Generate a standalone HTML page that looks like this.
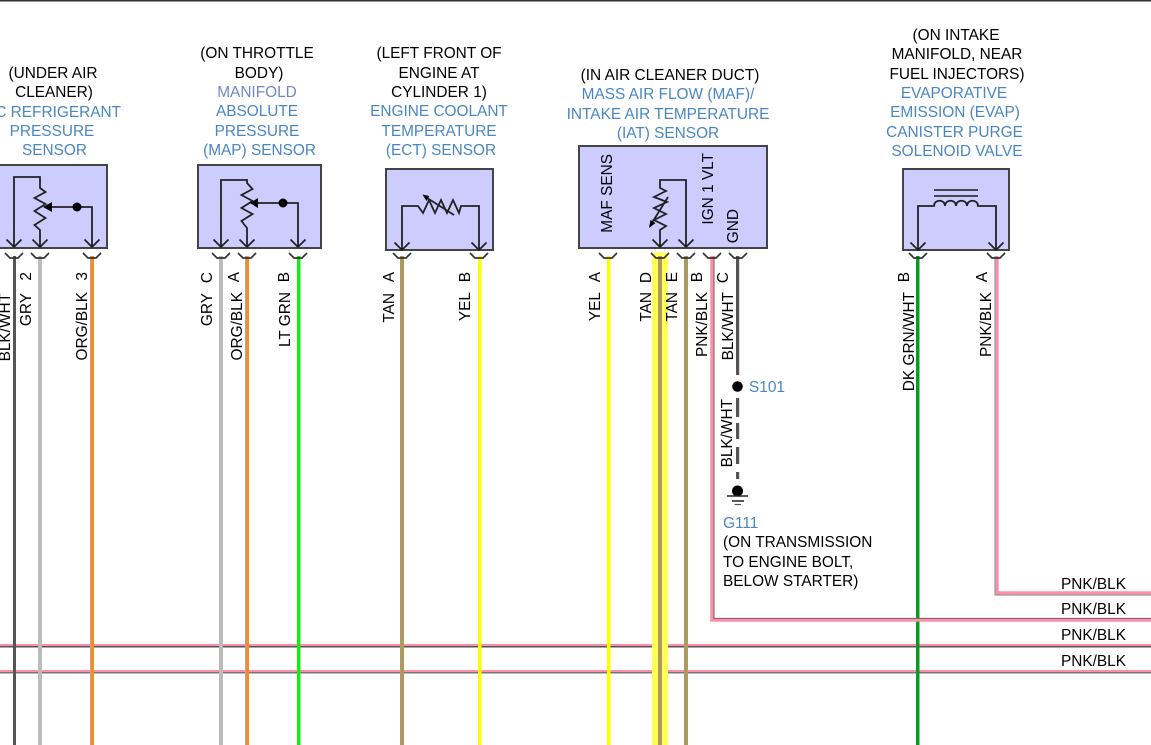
<!DOCTYPE html>
<html>
<head>
<meta charset="utf-8">
<style>
html,body{margin:0;padding:0;background:#fff}
svg{display:block}
text{font-family:"Liberation Sans",sans-serif;font-size:15.4px;fill:#000}
.b text,text.b{fill:#4a86c4}
.c text{text-anchor:middle}
.box{fill:#ccccff;stroke:#444;stroke-width:2}
.l{fill:none;stroke:#222;stroke-width:1.8}
.ch{fill:none;stroke:#333;stroke-width:1.7}
</style>
</head>
<body>
<svg width="1151" height="745" viewBox="0 0 1151 745" xmlns="http://www.w3.org/2000/svg">
<rect x="0" y="0" width="1151" height="1.5" fill="#333"/>

<!-- horizontal pink wires -->
<rect x="0" y="644" width="1151" height="3" fill="#ff8fa8"/><rect x="0" y="646" width="1151" height="1.5" fill="#555"/>
<rect x="0" y="670" width="1151" height="3" fill="#ff8fa8"/><rect x="0" y="672" width="1151" height="1.5" fill="#777"/>

<!-- highlight -->
<rect x="652" y="256" width="16" height="489" fill="#ffff55"/>
<ellipse cx="660" cy="256" rx="8" ry="4" fill="#ffff55"/>

<!-- vertical wires -->
<rect x="13" y="256" width="3" height="489" fill="#555"/>
<rect x="38" y="256" width="4" height="489" fill="#bbb"/>
<rect x="90" y="256" width="1.5" height="489" fill="#aaa"/><rect x="91" y="256" width="3" height="489" fill="#ff8c1a"/>
<rect x="219" y="256" width="4" height="489" fill="#bbb"/>
<rect x="245" y="256" width="1.5" height="489" fill="#aaa"/><rect x="246" y="256" width="3" height="489" fill="#ff8c1a"/>
<rect x="297" y="256" width="3.5" height="489" fill="#11ee11"/>
<rect x="400" y="256" width="4" height="489" fill="#ae9a60"/>
<rect x="478" y="256" width="3.5" height="489" fill="#ffff00"/>
<rect x="607" y="256" width="3.5" height="489" fill="#ffff00"/>
<rect x="658" y="256" width="4" height="489" fill="#ae9a60"/>
<rect x="684" y="256" width="4" height="489" fill="#ae9a60"/>
<rect x="916" y="256" width="3.5" height="489" fill="#0a9a20"/>

<!-- 712 pink wire with turn -->
<path d="M712 256V620H1151" fill="none" stroke="#ff8fa8" stroke-width="3.5"/>
<path d="M714 256V618.4H1151" fill="none" stroke="#666" stroke-width="1"/>
<!-- 995 pink wire with turn -->
<path d="M997 256V593H1151" fill="none" stroke="#ff8fa8" stroke-width="3.5"/>
<path d="M995 256V595H1151" fill="none" stroke="#999" stroke-width="1.2"/>

<!-- retint crossings -->
<rect x="658" y="644" width="4" height="3" fill="#ae9a60" opacity=".7"/>
<rect x="684" y="644" width="4" height="3" fill="#ae9a60" opacity=".7"/>
<rect x="658" y="670" width="4" height="3" fill="#ae9a60" opacity=".7"/>
<rect x="684" y="670" width="4" height="3" fill="#ae9a60" opacity=".7"/>

<!-- ground wire -->
<rect x="736" y="256" width="3.2" height="119" fill="#555"/>
<rect x="736" y="398" width="3.2" height="19" fill="#555"/>
<rect x="736" y="423" width="3.2" height="16" fill="#555"/>
<rect x="736" y="447" width="3.2" height="17" fill="#555"/>
<rect x="736" y="472" width="3.2" height="7" fill="#555"/>
<circle cx="737.500" cy="386.500" r="5.300" fill="#000"/>
<circle cx="737.500" cy="491" r="5.500" fill="#000"/>
<path d="M727 496H748M732 501H744" stroke="#222" stroke-width="1.6" fill="none"/>
<path d="M734.500 504.500H741" stroke="#555" stroke-width="1.200" fill="none"/>

<!-- boxes -->
<rect class="box" x="-10" y="165" width="117" height="83"/>
<rect class="box" x="198" y="165" width="123" height="83"/>
<rect class="box" x="386" y="169" width="107" height="81"/>
<rect class="box" x="579" y="146" width="188" height="102"/>
<rect class="box" x="903" y="169" width="106" height="81"/>

<!-- left sensor -->
<path class="l" d="M14 247V177H40V188L45.500 192 34.500 198 45.500 204 34.500 211 45.500 218 34.500 225 40 230V247"/>
<path class="l" d="M92 247V207H50"/>
<path d="M43 207L52 202V212Z" fill="#000"/>
<circle cx="77" cy="207" r="4.500" fill="#000"/>
<!-- MAP -->
<path class="l" d="M221 247V180H247V183L252.500 189 241.500 195 252.500 201 241.500 208 252.500 214 241.500 221 247 228V247"/>
<path class="l" d="M298 247V203H256"/>
<path d="M250 203L258 198V208Z" fill="#000"/>
<circle cx="283" cy="203" r="4.500" fill="#000"/>
<!-- ECT -->
<path class="l" d="M402 249V206H418L423 213 429 200 435 213 441 200 447 213 453 200 459 213 461 206H479V249"/>
<path class="l" d="M454 215L424 196"/>
<path d="M422.500 194.500L429.500 196 426.500 201Z" fill="#000"/>
<!-- MAF -->
<path class="l" d="M660 247V230L666 226 654 220 666 214 654 208 667 202 654 197 666 191 660 188V180H686V247"/>
<path class="l" d="M668 197L650 226"/>
<path d="M649 228L650.500 220 655.500 223Z" fill="#000"/>
<!-- EVAP -->
<path class="l" d="M918 249V206H934C934 199 945 199 945 206C945 199 956 199 956 206C956 199 967 199 967 206C967 199 978 199 978 206H996V249"/>
<path d="M934 190H978M934 196H978" fill="none" stroke="#333" stroke-width="1.800"/>

<!-- arrowheads -->
<path class="l" d="M6.500 239.500L14 247 21.500 239.500M32.500 239.500L40 247 47.500 239.500M84.500 239.500L92 247 99.500 239.500M213.500 239.500L221 247 228.500 239.500M239.500 239.500L247 247 254.500 239.500M290.500 239.500L298 247 305.500 239.500M394.500 242.500L402 250 409.500 242.500M471.500 242.500L479 250 486.500 242.500M652.500 239.500L660 247 667.500 239.500M678.500 239.500L686 247 693.500 239.500M910.500 242.500L918 250 925.500 242.500M988.500 242.500L996 250 1003.500 242.500"/>

<!-- connector cups -->
<g class="ch">
<path d="M5 253L10 258H18L23 253"/><path d="M31 253L36 258H44L49 253"/><path d="M83 253L88 258H96L101 253"/>
<path d="M212 253L217 258H225L230 253"/><path d="M238 253L243 258H251L256 253"/><path d="M289 253L294 258H302L307 253"/>
<path d="M393 253L398 258H406L411 253"/><path d="M470 253L475 258H483L488 253"/>
<path d="M599 253L604 258H612L617 253"/><path d="M651 253L656 258H664L669 253"/><path d="M677 253L682 258H690L695 253"/><path d="M703 253L708 258H716L721 253"/><path d="M729 253L734 258H742L747 253"/>
<path d="M909 253L914 258H922L927 253"/><path d="M987 253L992 258H1000L1005 253"/>
</g>

<!-- headings -->
<g class="c">
<text x="53" y="78">(UNDER AIR</text><text x="54" y="97">CLEANER)</text>
<g class="b"><text x="53" y="117">AC REFRIGERANT</text><text x="52" y="136">PRESSURE</text><text x="54.500" y="155">SENSOR</text></g>
<text x="257" y="58">(ON THROTTLE</text><text x="259" y="78">BODY)</text>
<g class="b"><text x="257" y="97" style="fill:#6f88c6">MANIFOLD</text><text x="257" y="116">ABSOLUTE</text><text x="257" y="136">PRESSURE</text><text x="259.500" y="155">(MAP) SENSOR</text></g>
<text x="439" y="58">(LEFT FRONT OF</text><text x="439" y="78">ENGINE AT</text><text x="439" y="97">CYLINDER 1)</text>
<g class="b"><text x="439" y="116">ENGINE COOLANT</text><text x="439" y="136">TEMPERATURE</text><text x="441" y="155">(ECT) SENSOR</text></g>
<text x="670" y="80">(IN AIR CLEANER DUCT)</text>
<g class="b"><text x="668" y="99">MASS AIR FLOW (MAF)/</text><text x="668" y="119">INTAKE AIR TEMPERATURE</text><text x="668" y="138">(IAT) SENSOR</text></g>
<text x="956" y="40">(ON INTAKE</text><text x="957" y="59">MANIFOLD, NEAR</text><text x="957" y="79">FUEL INJECTORS)</text>
<g class="b"><text x="954" y="98">EVAPORATIVE</text><text x="955" y="117">EMISSION (EVAP)</text><text x="954.500" y="137">CANISTER PURGE</text><text x="957" y="156">SOLENOID VALVE</text></g>
</g>

<!-- rotated labels -->
<g text-anchor="end">
<text transform="translate(10,293) rotate(-90)">BLK/WHT</text>
<text transform="translate(31,272) rotate(-90)">2</text>
<text transform="translate(31,293) rotate(-90)">GRY</text>
<text transform="translate(87,272) rotate(-90)">3</text>
<text transform="translate(87,292) rotate(-90)">ORG/BLK</text>
<text transform="translate(212,272) rotate(-90)">C</text>
<text transform="translate(212,293) rotate(-90)">GRY</text>
<text transform="translate(239,272) rotate(-90)">A</text>
<text transform="translate(242,292) rotate(-90)">ORG/BLK</text>
<text transform="translate(289,272) rotate(-90)">B</text>
<text transform="translate(290,292) rotate(-90)">LT GRN</text>
<text transform="translate(394,272) rotate(-90)">A</text>
<text transform="translate(394,293) rotate(-90)">TAN</text>
<text transform="translate(470,272) rotate(-90)">B</text>
<text transform="translate(470,292) rotate(-90)">YEL</text>
<text transform="translate(600,272) rotate(-90)">A</text>
<text transform="translate(600,292) rotate(-90)">YEL</text>
<text transform="translate(651,272) rotate(-90)">D</text>
<text transform="translate(651,292) rotate(-90)">TAN</text>
<text transform="translate(677,272) rotate(-90)">E</text>
<text transform="translate(677,292) rotate(-90)">TAN</text>
<text transform="translate(702,272) rotate(-90)">B</text>
<text transform="translate(707,292) rotate(-90)">PNK/BLK</text>
<text transform="translate(728,272) rotate(-90)">C</text>
<text transform="translate(733,292) rotate(-90)">BLK/WHT</text>
<text transform="translate(909,272) rotate(-90)">B</text>
<text transform="translate(914,292) rotate(-90)">DK GRN/WHT</text>
<text transform="translate(987,272) rotate(-90)">A</text>
<text transform="translate(991,292) rotate(-90)">PNK/BLK</text>
<text transform="translate(732,399) rotate(-90)">BLK/WHT</text>
<text transform="translate(612,154) rotate(-90)">MAF SENS</text>
<text transform="translate(713,153) rotate(-90)">IGN 1 VLT</text>
<text transform="translate(738,209) rotate(-90)">GND</text>
</g>

<text class="b" x="749" y="392">S101</text>
<text class="b" x="723" y="528">G111</text>
<text x="723" y="547">(ON TRANSMISSION</text>
<text x="723" y="567">TO ENGINE BOLT,</text>
<text x="723" y="586">BELOW STARTER)</text>

<text x="1061" y="589">PNK/BLK</text>
<text x="1061" y="614">PNK/BLK</text>
<text x="1061" y="640">PNK/BLK</text>
<text x="1061" y="666">PNK/BLK</text>
</svg>
</body>
</html>
